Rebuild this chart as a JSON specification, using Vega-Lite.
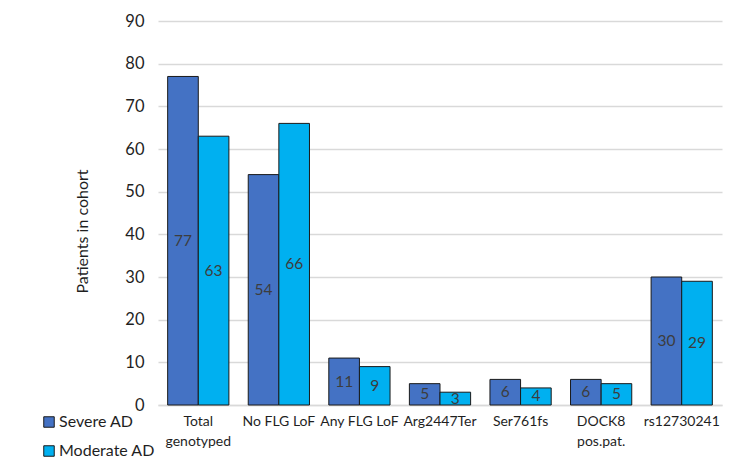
{
  "$schema": "https://vega.github.io/schema/vega-lite/v6.json",
  "width": 564,
  "height": 384,
  "autosize": {"type": "none"},
  "padding": {"left": 158, "top": 21, "right": 17, "bottom": 68},
  "background": "white",
  "config": {
    "font": "Lato",
    "view": {"stroke": null},
    "axis": {"labelColor": "#1f1f1f", "titleColor": "#1f1f1f", "titleFontWeight": "normal"}
  },
  "data": {
    "values": [
      {"marker": "Total|genotyped", "group": "Severe AD", "patients": 77},
      {"marker": "Total|genotyped", "group": "Moderate AD", "patients": 63},
      {"marker": "No FLG LoF", "group": "Severe AD", "patients": 54},
      {"marker": "No FLG LoF", "group": "Moderate AD", "patients": 66},
      {"marker": "Any FLG LoF", "group": "Severe AD", "patients": 11},
      {"marker": "Any FLG LoF", "group": "Moderate AD", "patients": 9},
      {"marker": "Arg2447Ter", "group": "Severe AD", "patients": 5},
      {"marker": "Arg2447Ter", "group": "Moderate AD", "patients": 3},
      {"marker": "Ser761fs", "group": "Severe AD", "patients": 6},
      {"marker": "Ser761fs", "group": "Moderate AD", "patients": 4},
      {"marker": "DOCK8|pos.pat.", "group": "Severe AD", "patients": 6},
      {"marker": "DOCK8|pos.pat.", "group": "Moderate AD", "patients": 5},
      {"marker": "rs12730241", "group": "Severe AD", "patients": 30},
      {"marker": "rs12730241", "group": "Moderate AD", "patients": 29}
    ]
  },
  "encoding": {
    "x": {
      "field": "marker",
      "type": "nominal",
      "sort": null,
      "scale": {"paddingInner": 0.24, "paddingOuter": 0.12},
      "axis": {
        "title": null,
        "labelAngle": 0,
        "labelExpr": "split(datum.value, '|')",
        "labelFontSize": 14,
        "labelLineHeight": 20,
        "labelPadding": 9,
        "ticks": false,
        "domainColor": "#d9d9d9",
        "domainWidth": 1.5
      }
    },
    "xOffset": {"field": "group", "type": "nominal", "sort": ["Severe AD", "Moderate AD"]}
  },
  "layer": [
    {
      "mark": {"type": "bar", "stroke": "#1a1a1a", "strokeWidth": 1},
      "encoding": {
        "y": {
          "field": "patients",
          "type": "quantitative",
          "scale": {"domain": [0, 90]},
          "axis": {
            "title": "Patients in cohort",
            "titleFontSize": 16,
            "titlePadding": 34,
            "titleY": 210,
            "labelFontSize": 16.5,
            "labelPadding": 14,
            "tickCount": 9,
            "ticks": false,
            "domain": false,
            "gridColor": "#d9d9d9",
            "gridWidth": 1.5
          }
        },
        "color": {
          "field": "group",
          "type": "nominal",
          "sort": ["Severe AD", "Moderate AD"],
          "scale": {"domain": ["Severe AD", "Moderate AD"], "range": ["#4472c4", "#00b0f0"]},
          "legend": {
            "title": null,
            "orient": "none",
            "legendX": -117,
            "legendY": 393,
            "symbolType": "square",
            "symbolSize": 110,
            "symbolStrokeColor": "#1a1a1a",
            "symbolStrokeWidth": 1,
            "symbolFillOpacity": 1,
            "labelFontSize": 16,
            "labelColor": "#1f1f1f",
            "labelOffset": 2,
            "rowPadding": 13,
            "padding": 0
          }
        }
      }
    },
    {
      "transform": [{"calculate": "datum.patients / 2", "as": "mid"}],
      "mark": {"type": "text", "fontSize": 15.5, "color": "#3d3d3d", "baseline": "middle"},
      "encoding": {
        "y": {"field": "mid", "type": "quantitative"},
        "text": {"field": "patients", "type": "quantitative"}
      }
    }
  ]
}
